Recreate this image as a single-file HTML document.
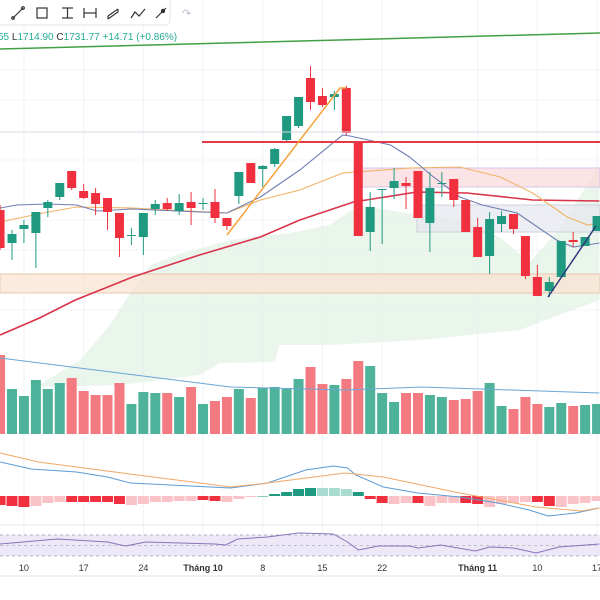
<!DOCTYPE html>
<html><head><meta charset="utf-8"><style>
body{margin:0;background:#fff;width:600px;height:600px;overflow:hidden;font-family:"Liberation Sans",sans-serif}
svg{display:block}
</style></head><body>
<svg id="chart" width="600" height="600" viewBox="0 0 600 600" xmlns="http://www.w3.org/2000/svg">
<rect width="600" height="600" fill="#fff"/>
<g id="grid"></g>
<g id="cloud"></g>
<g id="zones">
 <rect x="0" y="274" width="600" height="19" fill="#f9e3d2" fill-opacity="0.7" stroke="#e8c9ae" stroke-width="1"/>
 <rect x="362" y="168" width="238" height="19" fill="#fbd9dc" fill-opacity="0.7" stroke="#d6c6e6" stroke-width="1"/>
 <rect x="417" y="205" width="183" height="27" fill="#e6e7ee" fill-opacity="0.7" stroke="#cfd1db" stroke-width="1"/>
</g>
<g id="lines"></g>
<g id="candles"></g>
<g id="drawings">
 <line x1="0" y1="49" x2="600" y2="33" stroke="#43a047" stroke-width="1.5"/>
 <line x1="0" y1="132" x2="600" y2="132" stroke="#d5dae3" stroke-width="1"/>
 <line x1="202" y1="142" x2="600" y2="142" stroke="#e53946" stroke-width="2"/>
 <polyline points="227,235 340,88 346,88" fill="none" stroke="#f5a23c" stroke-width="1.5"/>
 <line x1="548" y1="297" x2="596" y2="226" stroke="#2e3a7a" stroke-width="1.5"/>
</g>
<g id="volume"></g>
<g id="macd"></g>
<g id="rsi">
 <rect x="0" y="535" width="600" height="21" fill="#ede8f8"/>
 <line x1="0" y1="535" x2="600" y2="535" stroke="#9a9aa8" stroke-dasharray="3,3" stroke-width="0.8"/>
 <line x1="0" y1="545.5" x2="600" y2="545.5" stroke="#b0b0bc" stroke-dasharray="3,3" stroke-width="0.8"/>
 <line x1="0" y1="556" x2="600" y2="556" stroke="#9a9aa8" stroke-dasharray="3,3" stroke-width="0.8"/>
</g>
<line x1="0" y1="525" x2="600" y2="525" stroke="#e6e8ee" stroke-width="1"/>
<line x1="0" y1="576" x2="600" y2="576" stroke="#e0e3eb" stroke-width="1"/>
<g id="xaxis" font-size="9" fill="#333" text-anchor="middle"></g>
<g>
 <rect x="-6" y="-4" width="176" height="29" rx="4" fill="#fff" stroke="#e0e3eb"/>
 <g stroke="#333" stroke-width="1.2" fill="none">
  <g><line x1="13" y1="18" x2="23" y2="8"/><circle cx="13" cy="18" r="1.3"/><circle cx="23" cy="8" r="1.3"/></g>
  <g><rect x="37" y="8" width="10" height="10"/></g>
  <g><line x1="62" y1="8" x2="73" y2="8"/><line x1="67.5" y1="8" x2="67.5" y2="18"/><line x1="62" y1="18" x2="73" y2="18"/></g>
  <g><line x1="84" y1="8" x2="84" y2="18"/><line x1="96" y1="8" x2="96" y2="18"/><line x1="84" y1="13" x2="96" y2="13"/></g>
  <g><path d="M108 16 L118 9 M108 19 L118 12 L118 9 M108 16 L108 19"/></g>
  <g><polyline points="131,18 135,12 139,16 145,9"/></g>
  <g><line x1="156" y1="18" x2="166" y2="8"/><circle cx="163" cy="11" r="1.6" fill="#333"/></g>
 </g>
 <text x="182" y="17" font-size="11" fill="#b8bcc6">↷</text>
</g>
<text x="-2" y="40" font-size="10" fill="#22ab94">65 <tspan fill="#333">L</tspan>1714.90 <tspan fill="#333">C</tspan>1731.77 +14.71 (+0.86%)</text>
</svg>
<script>
// ---- data ----
const barIdx = [-1,0,1,2,3,4,5,6,7,8,9,10,11,12,13,14,15,16,17,18,19,20,21,22,23,24,25,26,27,28,29,30,31,32,33,34,35,36,37,38,39,40,41,42,43,44,45,46,47,48,49];
const opens  = [1790,1757,1771,1767,1792,1803,1829,1809,1807,1802,1787,1764,1763,1791,1797,1789,1798,1796,1798,1782,1804,1837,1831,1836,1860,1874,1922,1904,1903,1912,1858,1768,1810,1812,1817,1829,1777,1816,1821,1800,1773,1744,1776,1786,1764,1723,1709,1723,1760,1754,1769];
const highs  = [1795,1770,1780,1788,1800,1817,1829,1816,1812,1802,1787,1772,1787,1800,1802,1806,1808,1802,1811,1782,1828,1837,1835,1852,1884,1903,1934,1912,1909,1914,1858,1808,1811,1832,1823,1829,1828,1828,1821,1800,1782,1788,1789,1786,1764,1735,1723,1759,1768,1763,1784];
const lows   = [1750,1740,1757,1732,1783,1800,1810,1801,1785,1770,1743,1755,1745,1785,1789,1785,1775,1790,1777,1770,1796,1817,1813,1833,1857,1872,1890,1893,1890,1865,1764,1749,1756,1801,1791,1782,1748,1803,1793,1768,1743,1726,1768,1766,1721,1704,1703,1723,1753,1754,1769];
const closes = [1752,1766,1775,1788,1798,1817,1812,1802,1796,1788,1762,1765,1787,1796,1791,1797,1792,1797,1782,1774,1828,1817,1834,1851,1884,1903,1898,1895,1906,1867,1764,1793,1811,1819,1814,1782,1812,1817,1800,1768,1743,1781,1784,1771,1724,1704,1718,1759,1758,1763,1784];
const volumes = [79,45,38,54,45,51,56,43,39,39,51,30,42,41,41,37,47,30,33,37,45,36,46,47,45,55,67,50,49,55,73,68,41,32,41,41,39,37,34,35,43,51,28,25,37,30,27,31,28,29,30];
const volMA = [[-1,76],[18.3,47],[27.9,44],[34.3,47],[49.2,41]];
const maRed = [[-1,1665],[2.3,1682],[5.3,1700],[10.1,1723],[15.7,1745],[20.8,1763],[24.1,1780],[28.6,1798],[33.9,1808],[38.1,1807],[43.6,1800],[49.2,1799]];
const maBlue = [[-1,1792],[0.4,1795],[2.9,1796],[5.4,1795],[7.1,1789],[10.1,1791],[15.7,1788],[18,1787],[20.8,1803],[24.1,1830],[27.7,1865],[28.3,1864],[31.7,1855],[33.3,1843],[35.3,1823],[37.5,1803],[39.4,1795],[42.3,1787],[45.6,1760],[47,1753],[49.2,1757]];
const maOrange = [[-1,1778],[2.6,1787],[5.4,1793],[10.1,1792],[18,1787],[20.8,1800],[24.1,1810],[27.7,1827],[33.3,1832],[37.5,1833],[40.9,1823],[43.6,1807],[46.5,1783],[48.2,1775],[49.2,1777]];
const cloudTop = [[2.3,1615],[5.7,1640],[8.2,1675],[9.9,1707],[11.6,1735],[13.7,1745],[18.3,1760],[23.3,1767],[26.6,1775],[29.1,1795],[32.5,1788],[38.4,1778],[40.9,1762],[43.4,1738],[45.9,1772],[49.2,1835]];
const cloudBot = [[49.2,1700],[42.5,1670],[34.2,1660],[26.6,1655],[24.1,1655],[22.4,1655],[22,1638],[17.4,1637],[15.7,1625],[9,1615],[2.3,1613]];
const macdLine = [[-1,34],[1.6,27],[5.4,24],[8,19],[9.9,13],[18.3,8],[21.4,13],[24.6,26],[26.9,30],[28.1,28],[28.8,21],[31.1,9],[34,3],[37.5,-1],[40.7,-7],[43.3,-14],[44.9,-20],[47.2,-17],[49.2,-12]];
const signalLine = [[-1,43],[2.2,34],[8.6,24],[15.1,14],[18.3,9],[21.4,13],[27.9,23],[31.1,19],[37.5,3],[43.9,-11],[47.7,-15],[49.2,-12]];
const macdHist = [-9,-10,-11,-10,-7,-6,-6,-6,-6,-6,-8,-9,-8,-6,-6,-5,-5,-4,-5,-6,-3,-1,0,2,4,7,8,8,8,7,4,-3,-7,-8,-7,-7,-10,-7,-7,-7,-8,-11,-8,-7,-6,-6,-10,-11,-8,-7,-5,-3];
const histDark = [1,1,1,0,0,0,1,1,1,1,1,0,0,0,0,0,0,1,1,0,0,0,1,1,1,1,1,0,0,0,1,1,1,0,0,1,0,0,0,1,1,0,0,0,0,1,1,0,0,0,0];
const rsiLine = [[-1,52.9],[3.8,62.4],[8,56.7],[9.5,49],[11.2,56.7],[17,52.9],[17.9,51],[18.9,62.4],[21.4,66.2],[24,73.8],[26.9,71.9],[28.1,56.7],[29,41.4],[30.7,49],[33.3,49],[34,45.2],[35.9,51],[38.8,39.5],[40,47.1],[42,45.2],[43.9,35.7],[45.8,47.1],[49.2,52.9]];
const tickLabels = ["10","17","24","Tháng 10","8","15","22","Tháng 11","10","17"];
const tickIdx = [1,6,11,16,21,26,31,39,44,49];

// ---- scales ----
const NS="http://www.w3.org/2000/svg";
const xS = i => 12 + 11.94*i;
const yP = p => 2000 - p;
const yV = v => 434 - v;
const yM = v => 496 - v;
const yR = v => 535 + (70 - v)*0.525;
function mk(tag, attrs, parent){const e=document.createElementNS(NS,tag);for(const k in attrs)e.setAttribute(k,attrs[k]);document.getElementById(parent).appendChild(e);return e;}
function pts(arr, ys){return arr.map(p=>xS(p[0]).toFixed(1)+","+ys(p[1]).toFixed(1)).join(" ");}

// grid
tickIdx.forEach(i=>{
  const g=mk("line",{x1:xS(i),x2:xS(i),y1:0,y2:576,stroke:"#f0f2f5","stroke-width":1},"grid");
  
  
});
[70,100,160,220,250,310].forEach(y=>{
  const g=mk("line",{x1:0,x2:600,y1:y,y2:y,stroke:"#f3f4f7","stroke-width":1},"grid");
  
  
});

// cloud
const cl=mk("polygon",{points:pts(cloudTop,yP)+" "+pts(cloudBot,yP),fill:"#e3f1e6","fill-opacity":0.75},"cloud");



// moving averages
[[maRed,"#d9334a",1.6,"ma-red"],[maOrange,"#f0b366",1.1,"ma-orange"],[maBlue,"#6f7fb3",1.1,"ma-blue"]].forEach(a=>{
  const l=mk("polyline",{points:pts(a[0],yP),fill:"none",stroke:a[1],"stroke-width":a[2]},"lines");
  
  
});

// candles
const UP="#1f9a80", DN="#f0303f";
barIdx.forEach((i,k)=>{
  const o=opens[k],c=closes[k],h=highs[k],l=lows[k];
  const col=c>=o?UP:DN, x=xS(i);
  const w=mk("line",{x1:x,x2:x,y1:yP(h),y2:yP(l),stroke:col,"stroke-width":1},"candles");
  
  
  const top=yP(Math.max(o,c)), bh=Math.max(1,Math.abs(o-c));
  const b=mk("rect",{x:x-4.5,y:top,width:9,height:bh,fill:col},"candles");
  
  
});

// volume
barIdx.forEach((i,k)=>{
  const col=closes[k]>=opens[k]?"#4fb29b":"#f47a82";
  const r=mk("rect",{x:xS(i)-5,y:yV(volumes[k]),width:10,height:volumes[k],fill:col},"volume");
  
  
});
const vm=mk("polyline",{points:pts(volMA,yV),fill:"none",stroke:"#6aa6d6","stroke-width":1},"volume");



// macd histogram
macdHist.forEach((v,k)=>{
  const i=k-1, dark=histDark[k];
  let col = v>=0 ? (dark?"#1f9a80":"#a9dcd0") : (dark?"#f0303f":"#f9c3c8");
  const r=mk("rect",{x:xS(i)-5.5,y:v>=0?yM(v):496,width:11,height:Math.max(0.5,Math.abs(v)),fill:col},"macd");
  
  
});
const ml=mk("polyline",{points:pts(macdLine,yM),fill:"none",stroke:"#5b9bd5","stroke-width":1},"macd");


const sl=mk("polyline",{points:pts(signalLine,yM),fill:"none",stroke:"#f0a868","stroke-width":1},"macd");



// rsi
const rl=mk("polyline",{points:pts(rsiLine,yR),fill:"none",stroke:"#8a72b8","stroke-width":1},"rsi");



// x axis labels
tickLabels.forEach((t,k)=>{
  const tx=mk("text",{x:xS(tickIdx[k]),y:571},"xaxis");
  tx.textContent=t;
  if(t.length>3) tx.setAttribute('font-weight','bold');
  
  
});
</script>
</body></html>
